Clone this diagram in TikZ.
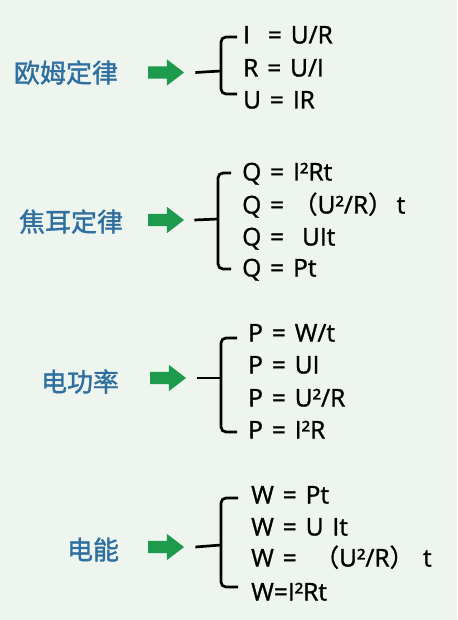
\documentclass[tikz,border=0pt]{standalone}
\usepackage{fontspec}
\setmainfont{Open Sans}[FakeBold=1.2, WordSpace=1.4]
\newfontfamily\cjk{Noto Sans CJK SC}[FakeBold=1.4]
\newfontfamily\cjkparen{Noto Sans CJK SC}[FakeBold=1.2]
\usetikzlibrary{shapes.arrows}
\definecolor{bgmint}{HTML}{EEF5EF}
\definecolor{lawblue}{HTML}{2F6F9F}
\definecolor{arrgreen}{HTML}{1E9A4C}

\begin{document}
\begin{tikzpicture}[x=1pt, y=-1pt,
    law/.style={font=\cjk\fontsize{26}{26}\selectfont, text=lawblue, inner sep=0pt,
        text height=21pt, text depth=2pt},
    fml/.style={anchor=west, font=\fontsize{24.5}{24.5}\selectfont, inner sep=0pt,
        text height=17pt, text depth=0pt},
    goarrow/.style={single arrow, fill=arrgreen, draw=none, inner sep=6pt,
        minimum height=36pt, minimum width=26pt, single arrow head extend=7pt,
        single arrow tip angle=75},
    brace/.style={line width=2.7pt, rounded corners=5pt}]
    % Background
    \fill[bgmint] (0,0) rectangle (457,620);
    \useasboundingbox (0,0) rectangle (457,620);

    % Ohm's law
    \node[law] (ohm) at (66,73) {欧姆定律};
    \node[goarrow] (a1) at (162,72.5) {};
    \coordinate (s1) at (221,71);
    \node[fml] (f11) at (243,35) {I~~= U/R};
    \node[fml] (f12) at (243,68) {R = U/I};
    \node[fml] (f13) at (243,100) {U = IR};
    \draw[brace] ([xshift=11pt]a1.east) -- (s1);
    \draw[brace] ([xshift=-6pt,yshift=-2pt]f11.west) -| (s1) |- ([xshift=-6pt,yshift=6pt]f13.west);

    % Joule's law
    \node[law] (joule) at (71,222) {焦耳定律};
    \node[goarrow] (a2) at (162,220) {};
    \coordinate (s2) at (218,219);
    \node[fml] (f21) at (242,172) {Q = I²Rt};
    \node[fml] (f22) at (242,205) {Q = {\cjkparen （}U²/R{\cjkparen ）}\,t};
    \node[fml] (f23) at (242,237) {Q = \ UIt};
    \node[fml] (f24) at (242,268) {Q = Pt};
    \draw[brace] ([xshift=10pt]a2.east) -- (s2);
    \draw[brace] ([xshift=-11pt,yshift=-1pt]f21.west) -| (s2) |- ([xshift=-11pt,yshift=-1pt]f24.west);

    % Electric power
    \node[law] (power) at (80,382) {电功率};
    \node[goarrow] (a3) at (164,378) {};
    \coordinate (s3) at (221,378);
    \node[fml] (f31) at (248,333) {P = W/t};
    \node[fml] (f32) at (248,365) {P = UI};
    \node[fml] (f33) at (248,398) {P = U²/R};
    \node[fml] (f34) at (248,430) {P = I²R};
    \draw[brace] ([xshift=11pt]a3.east) -- (s3);
    \draw[brace] ([xshift=-11pt,yshift=-5pt]f31.west) -| (s3) |- ([xshift=-11pt,yshift=-2pt]f34.west);

    % Electric energy
    \node[law] (energy) at (93,550) {电能};
    \node[goarrow] (a4) at (162,547) {};
    \coordinate (s4) at (221,545);
    \node[fml] (f41) at (251,495) {W = Pt};
    \node[fml] (f42) at (251,527) {W = U It};
    \node[fml] (f43) at (251,558) {W = \ {\cjkparen （}U²/R{\cjkparen ）}\ t};
    \node[fml] (f44) at (251,592) {W=I²Rt};
    \draw[brace] ([xshift=11pt]a4.east) -- (s4);
    \draw[brace] ([xshift=-13pt,yshift=-3pt]f41.west) -| (s4) |- ([xshift=-13pt,yshift=5pt]f44.west);
\end{tikzpicture}
\end{document}
